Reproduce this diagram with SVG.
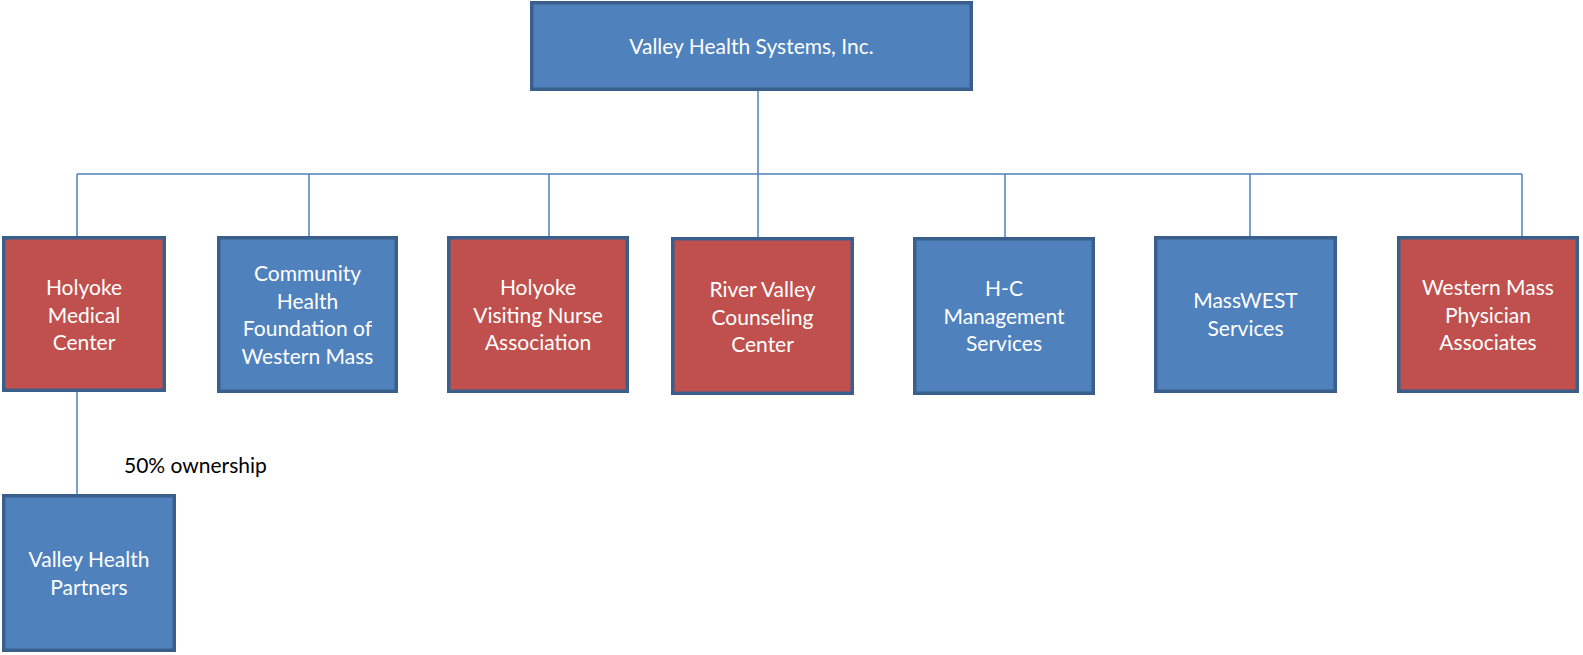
<svg xmlns="http://www.w3.org/2000/svg" width="1583" height="655" viewBox="0 0 1583 655">
<style>
.blue{fill:#4F81BD;stroke:#3A5F8B;stroke-width:3.5}
.red{fill:#C0504D;stroke:#3A5F8B;stroke-width:3.5}
.t{font-family:Lato,"Open Sans",sans-serif;font-size:21px;fill:#FFFFFF;text-anchor:middle}
.lbl{font-family:Lato,"Open Sans",sans-serif;font-size:21px;fill:#000000}
.c{stroke:#4F81BD;stroke-width:1.5;fill:none}
</style>
<rect width="1583" height="655" fill="#FFFFFF"/>
<g id="connectors">
<path class="c" d="M758 91V174M77 174H1522M77 174V236M309 174V236M549 174V236M758 174V237M1005 174V237M1250 174V236M1522 174V236M77 392V494"/>
</g>
<g id="vhs"><rect class="blue" x="531.75" y="2.75" width="439.5" height="86.5"/><text class="t" x="751.5" y="54">Valley Health Systems, Inc.</text></g>
<g id="hmc"><rect class="red" x="3.75" y="237.75" width="160.5" height="152.5"/><text class="t" x="84" y="295">Holyoke</text><text class="t" x="84" y="322.5">Medical</text><text class="t" x="84" y="350">Center</text></g>
<g id="chf"><rect class="blue" x="218.75" y="237.75" width="177.5" height="153.5"/><text class="t" x="307.5" y="281">Community</text><text class="t" x="307.5" y="308.5">Health</text><text class="t" x="307.5" y="336">Foundation of</text><text class="t" x="307.5" y="363.5">Western Mass</text></g>
<g id="hvna"><rect class="red" x="448.75" y="237.75" width="178.5" height="153.5"/><text class="t" x="538" y="295">Holyoke</text><text class="t" x="538" y="322.5">Visiting Nurse</text><text class="t" x="538" y="350">Association</text></g>
<g id="rvcc"><rect class="red" x="672.75" y="238.75" width="179.5" height="154.5"/><text class="t" x="762.5" y="297">River Valley</text><text class="t" x="762.5" y="324.5">Counseling</text><text class="t" x="762.5" y="352">Center</text></g>
<g id="hcms"><rect class="blue" x="914.75" y="238.75" width="178.5" height="154.5"/><text class="t" x="1004" y="296">H-C</text><text class="t" x="1004" y="323.5">Management</text><text class="t" x="1004" y="351">Services</text></g>
<g id="mws"><rect class="blue" x="1155.75" y="237.75" width="179.5" height="153.5"/><text class="t" x="1245.5" y="308">MassWEST</text><text class="t" x="1245.5" y="335.5">Services</text></g>
<g id="wmpa"><rect class="red" x="1398.75" y="237.75" width="178.5" height="153.5"/><text class="t" x="1488" y="295">Western Mass</text><text class="t" x="1488" y="322.5">Physician</text><text class="t" x="1488" y="350">Associates</text></g>
<g id="vhp"><rect class="blue" x="3.75" y="495.75" width="170.5" height="154.5"/><text class="t" x="89" y="567">Valley Health</text><text class="t" x="89" y="594.5">Partners</text></g>
<text class="lbl" x="124" y="473">50% ownership</text>
</svg>
